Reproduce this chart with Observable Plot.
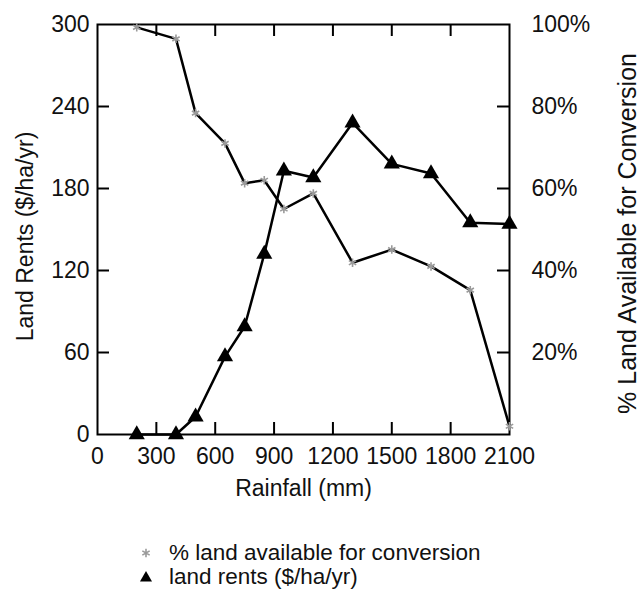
<!DOCTYPE html>
<html>
<head>
<meta charset="utf-8">
<script src="https://cdn.jsdelivr.net/npm/d3@7"></script>
<script src="https://cdn.jsdelivr.net/npm/@observablehq/plot@0.6"></script>
<style>
  html, body { margin: 0; padding: 0; background: white; }
  #wrap { position: relative; width: 641px; height: 592px; font-family: 'Liberation Sans', Arial, sans-serif; }
  .lg { position: absolute; font-size: 22.5px; line-height: 23px; color: #111; white-space: nowrap; }
  .sw { position: absolute; }
</style>
</head>
<body>
<div id="wrap"></div>
<script>
// Data
const rainfall = [200, 400, 500, 650, 750, 850, 950, 1100, 1300, 1500, 1700, 1900, 2100];
const landAvailablePct = [99.3, 96.5, 78.4, 71, 61.3, 62, 55, 58.8, 41.9, 45.1, 41, 35.2, 2];
const landRents = [0, 0, 13, 57, 79, 132, 193, 188, 228, 198, 191, 155, 154];

const xTicks = [0, 300, 600, 900, 1200, 1500, 1800, 2100];
const yTicks = [0, 60, 120, 180, 240, 300];
const pctTicks = [20, 40, 60, 80, 100];

const legendLabels = ["% land available for conversion", "land rents ($/ha/yr)"];
const xLabel = "Rainfall (mm)";
const yLabelLeft = "Land Rents ($/ha/yr)";
const yLabelRight = "% Land Available for Conversion";

const pctData = rainfall.map((r, i) => ({rain: r, v: landAvailablePct[i] * 3}));
const rentData = rainfall.map((r, i) => ({rain: r, v: landRents[i]}));

const W = 641, H = 510, mL = 97, mR = 132, mT = 24, mB = 76;
const pw = W - mL - mR, ph = H - mT - mB;
const tl = 12;

const chart = Plot.plot({
  width: W, height: H,
  marginLeft: mL, marginRight: mR, marginTop: mT, marginBottom: mB,
  x: {domain: [0, 2100]},
  y: {domain: [0, 300]},
  style: {fontFamily: "'Liberation Sans', Arial, sans-serif", fontSize: "23px", color: "#111", background: "white", overflow: "visible"},
  marks: [
    Plot.axisX({ticks: xTicks, tickSize: 0, tickPadding: 13, label: null, fontSize: 23, tickFormat: d => String(d)}),
    Plot.axisY({ticks: yTicks, anchor: "left", tickSize: 0, tickPadding: 8, label: null, fontSize: 23, tickFormat: d => String(d)}),
    Plot.axisY({ticks: pctTicks.map(p => p * 3), anchor: "right", tickSize: 0, tickPadding: 22, textAnchor: "start",
      tickFormat: d => `${Math.round(d / 3)}%`, label: null, fontSize: 23}),
    // inward ticks
    Plot.tickX(xTicks.slice(1, -1), {x: d => d, insetTop: ph - tl, stroke: "black", strokeWidth: 2}),
    Plot.tickX(xTicks.slice(1, -1), {x: d => d, insetBottom: ph - tl, stroke: "black", strokeWidth: 2}),
    Plot.tickY(yTicks.slice(1, -1), {y: d => d, insetRight: pw - tl, stroke: "black", strokeWidth: 2}),
    Plot.tickY(yTicks.slice(1, -1), {y: d => d, insetLeft: pw - tl, stroke: "black", strokeWidth: 2}),
    Plot.frame({stroke: "black", strokeWidth: 2}),
    // axis titles
    Plot.text([xLabel], {frameAnchor: "bottom", dy: 54, lineAnchor: "middle", textAnchor: "middle", fontSize: 23, fill: "#111"}),
    Plot.text([yLabelLeft], {frameAnchor: "left", dx: -72, dy: 7, rotate: -90, lineAnchor: "middle", textAnchor: "middle", fontSize: 23, fill: "#111"}),
    Plot.text([yLabelRight], {frameAnchor: "right", dx: 118, dy: 4, rotate: -90, lineAnchor: "middle", textAnchor: "middle", fontSize: 25, fill: "#111"}),
    // series
    Plot.line(pctData, {x: "rain", y: "v", stroke: "black", strokeWidth: 2.5}),
    Plot.dot(pctData, {x: "rain", y: "v", symbol: "asterisk", r: 4, stroke: "#9a9a9a", strokeWidth: 1.6}),
    Plot.line(rentData, {x: "rain", y: "v", stroke: "black", strokeWidth: 2.5}),
    Plot.dot(rentData, {x: "rain", y: "v", symbol: "triangle", r: 6, fill: "black", stroke: "none"})
  ]
});

const wrap = document.getElementById("wrap");
wrap.appendChild(chart);

// Legend below the chart
const rows = [
  {top: 541, label: legendLabels[0], kind: "star"},
  {top: 565, label: legendLabels[1], kind: "tri"}
];
rows.forEach(r => {
  const sw = document.createElementNS("http://www.w3.org/2000/svg", "svg");
  sw.setAttribute("width", 16); sw.setAttribute("height", 16);
  sw.setAttribute("class", "sw");
  sw.style.left = "138px"; sw.style.top = (r.top + 4) + "px";
  if (r.kind === "star") {
    const p = document.createElementNS("http://www.w3.org/2000/svg", "path");
    p.setAttribute("d", d3.symbol(d3.symbolAsterisk, Math.PI * 16)());
    p.setAttribute("transform", "translate(8,8)");
    p.setAttribute("stroke", "#9a9a9a"); p.setAttribute("stroke-width", "1.6"); p.setAttribute("fill", "none");
    sw.appendChild(p);
  } else {
    const p = document.createElementNS("http://www.w3.org/2000/svg", "path");
    p.setAttribute("d", d3.symbol(d3.symbolTriangle, Math.PI * 20)());
    p.setAttribute("transform", "translate(8,9)");
    p.setAttribute("fill", "black");
    sw.appendChild(p);
  }
  wrap.appendChild(sw);
  const t = document.createElement("div");
  t.className = "lg";
  t.style.left = "169px"; t.style.top = r.top + "px";
  t.textContent = r.label;
  wrap.appendChild(t);
});
</script>
</body>
</html>
